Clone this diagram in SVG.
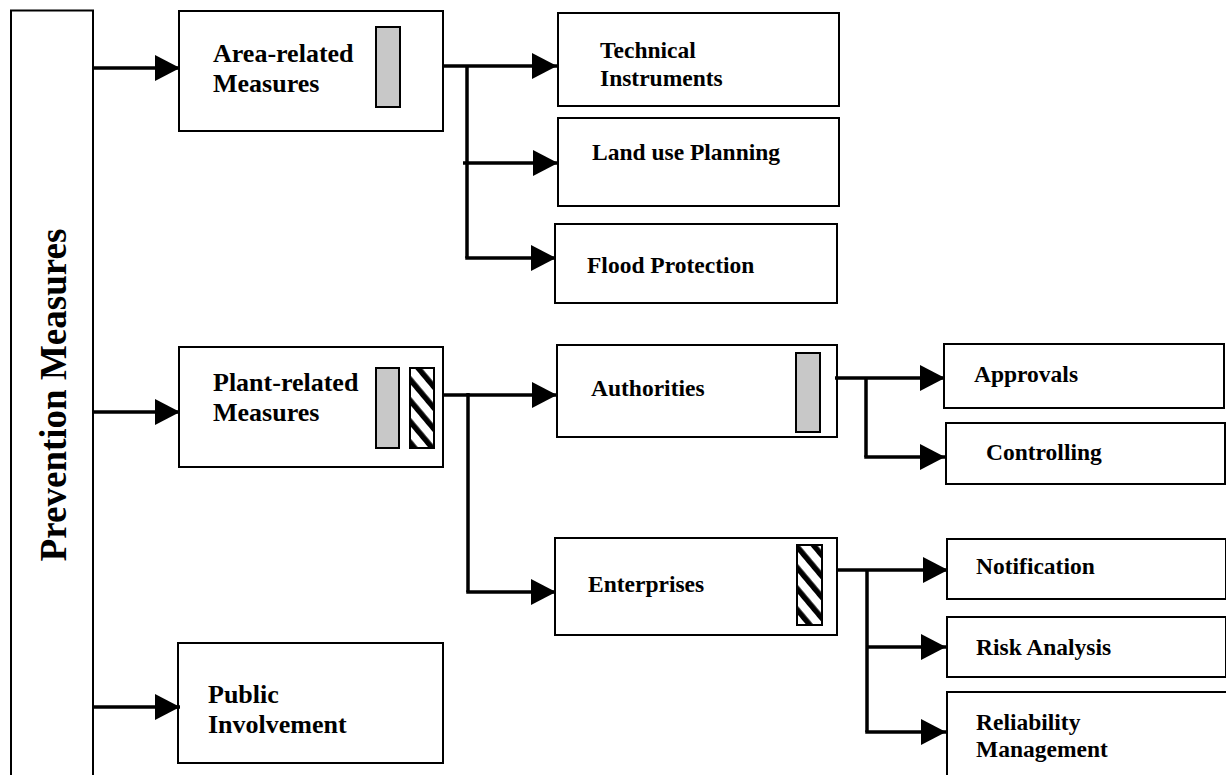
<svg xmlns="http://www.w3.org/2000/svg" width="1226" height="775" viewBox="0 0 1226 775">
<style>
.box{fill:#fff;stroke:#000;stroke-width:2}
.gray{fill:#c8c8c8;stroke:#000;stroke-width:2}
.hatch{fill:url(#hatch);stroke:#000;stroke-width:2}
.t{font-family:"Liberation Serif","Times New Roman",serif;font-weight:bold;fill:#000}
.l{font-size:26px}
.s{font-size:23.5px}
.conn{fill:none;stroke:#000;stroke-width:3.5}
</style>
<defs>
<pattern id="hatch" patternUnits="userSpaceOnUse" width="13.5" height="13.5" patternTransform="rotate(-40)">
<rect width="13.5" height="13.5" fill="#fff"/>
<rect width="5.5" height="13.5" fill="#000"/>
</pattern>
<marker id="arr" markerUnits="userSpaceOnUse" markerWidth="26" markerHeight="28" refX="25" refY="13" orient="auto">
<path d="M0,0 L25,13 L0,26 Z" fill="#000"/>
</marker>
</defs>
<rect width="1226" height="775" fill="#fff"/>

<g id="prevention">
<path d="M11,777 V10.5 H93 V777" fill="#fff" stroke="#000" stroke-width="2"/>
<text class="t" font-size="37" text-anchor="middle" transform="translate(66,395) rotate(-90)">Prevention Measures</text>
</g>

<g id="area">
<rect class="box" x="179" y="11" width="264" height="120"/>
<rect class="gray" x="376" y="27" width="24" height="80"/>
<text class="t l" x="213" y="62">Area-related</text>
<text class="t l" x="213" y="92">Measures</text>
</g>

<g id="plant">
<rect class="box" x="179" y="347" width="264" height="120"/>
<rect class="gray" x="376" y="368" width="23" height="80"/>
<rect class="hatch" x="410" y="368" width="24" height="80"/>
<text class="t l" x="213" y="391">Plant-related</text>
<text class="t l" x="213" y="421">Measures</text>
</g>

<g id="public">
<rect class="box" x="178" y="643" width="265" height="120"/>
<text class="t l" x="208" y="703">Public</text>
<text class="t l" x="208" y="733">Involvement</text>
</g>

<g id="technical">
<rect class="box" x="558" y="13" width="281" height="93"/>
<text class="t s" x="600" y="58">Technical</text>
<text class="t s" x="600" y="86">Instruments</text>
</g>

<g id="landuse">
<rect class="box" x="558" y="118" width="281" height="88"/>
<text class="t s" x="592" y="160">Land use Planning</text>
</g>

<g id="flood">
<rect class="box" x="555" y="224" width="282" height="79"/>
<text class="t s" x="587" y="273">Flood Protection</text>
</g>

<g id="authorities">
<rect class="box" x="557" y="345" width="280" height="92"/>
<rect class="gray" x="796" y="353" width="24" height="79"/>
<text class="t s" x="591" y="396">Authorities</text>
</g>

<g id="enterprises">
<rect class="box" x="555" y="538" width="282" height="97"/>
<rect class="hatch" x="797" y="545" width="25" height="80"/>
<text class="t s" x="588" y="592">Enterprises</text>
</g>

<g id="approvals">
<rect class="box" x="944" y="344" width="280" height="64"/>
<text class="t s" x="974" y="382">Approvals</text>
</g>

<g id="controlling">
<rect class="box" x="946" y="423" width="279" height="61"/>
<text class="t s" x="986" y="460">Controlling</text>
</g>

<g id="notification">
<rect class="box" x="947" y="539" width="279" height="60"/>
<text class="t s" x="976" y="574">Notification</text>
</g>

<g id="risk">
<rect class="box" x="947" y="617" width="279" height="60"/>
<text class="t s" x="976" y="655">Risk Analysis</text>
</g>

<g id="reliability">
<path d="M947,777 V692 H1226" fill="#fff" stroke="#000" stroke-width="2"/>
<text class="t s" x="976" y="730">Reliability</text>
<text class="t s" x="976" y="757">Management</text>
</g>

<g id="connectors">
<path class="conn" d="M93,68 H180" marker-end="url(#arr)"/>
<path class="conn" d="M93,412 H180" marker-end="url(#arr)"/>
<path class="conn" d="M93,707 H180" marker-end="url(#arr)"/>

<path class="conn" d="M443,66 H557" marker-end="url(#arr)"/>
<path class="conn" d="M467,66 V258"/>
<path class="conn" d="M463,163 H558" marker-end="url(#arr)"/>
<path class="conn" d="M465.25,258 H556" marker-end="url(#arr)"/>

<path class="conn" d="M443,395 H557" marker-end="url(#arr)"/>
<path class="conn" d="M468,393 V592"/>
<path class="conn" d="M466.25,592 H556" marker-end="url(#arr)"/>

<path class="conn" d="M835,378 H945" marker-end="url(#arr)"/>
<path class="conn" d="M866,378 V457"/>
<path class="conn" d="M864.25,457 H945" marker-end="url(#arr)"/>

<path class="conn" d="M837,570 H948" marker-end="url(#arr)"/>
<path class="conn" d="M867,570 V732"/>
<path class="conn" d="M867,647 H946" marker-end="url(#arr)"/>
<path class="conn" d="M865.25,732 H946" marker-end="url(#arr)"/>
</g>
</svg>
